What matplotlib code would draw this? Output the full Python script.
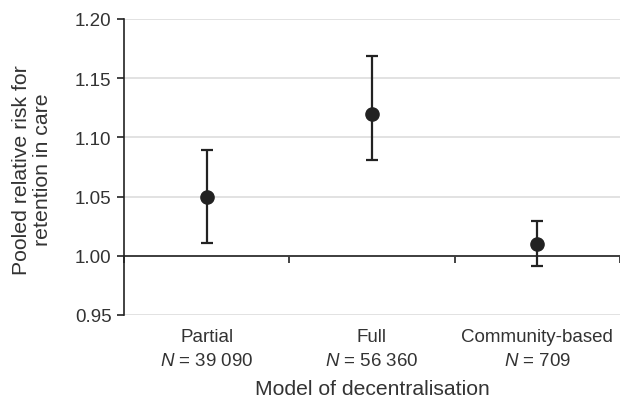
import matplotlib
matplotlib.use('Agg')
import matplotlib.pyplot as plt
import matplotlib.transforms as mtransforms

plt.rcParams['font.family'] = ['Liberation Sans', 'DejaVu Sans']
plt.rcParams['mathtext.fontset'] = 'custom'
plt.rcParams['mathtext.rm'] = 'Liberation Sans'
plt.rcParams['mathtext.it'] = 'Liberation Sans:italic'

# data
models = ['Partial', 'Full', 'Community-based']
sizes = ['39 090', '56 360', '709']
rr = [1.05, 1.12, 1.01]
ci_low = [1.011, 1.081, 0.991]
ci_high = [1.089, 1.169, 1.029]

fig = plt.figure(figsize=(6.2, 4.06), dpi=100)
ax = fig.add_axes([124 / 620, 1 - 316 / 406, 496 / 620, 296 / 406])

x = list(range(len(models)))
err = [[r - lo for r, lo in zip(rr, ci_low)], [hi - r for r, hi in zip(rr, ci_high)]]
ax.errorbar(x, rr, yerr=err, fmt='o', color='#222222', ms=9.5, elinewidth=1.6,
            capsize=4.2, capthick=1.6, zorder=3)

ax.set_xlim(-0.5, 2.5)
ax.set_ylim(0.95, 1.20)
ax.set_yticks([0.95, 1.00, 1.05, 1.10, 1.15, 1.20])
ax.set_yticklabels(['0.95', '1.00', '1.05', '1.10', '1.15', '1.20'])
ax.yaxis.grid(True, color='#dddddd', lw=1.2)
ax.set_axisbelow(True)

for s in ['top', 'right']:
    ax.spines[s].set_visible(False)
ax.spines['bottom'].set_position(('data', 1.0))
ax.spines['bottom'].set_color('#222222')
ax.spines['left'].set_color('#222222')
ax.spines['left'].set_linewidth(1.2)
ax.spines['bottom'].set_linewidth(1.2)

ax.set_xticks([-0.5, 0.5, 1.5, 2.5])
ax.set_xticklabels([])
ax.tick_params(axis='x', direction='out', length=5, width=1.2, color='#222222')
ax.tick_params(axis='y', direction='out', length=5, width=1.2, color='#222222',
               labelsize=13.5, labelcolor='#333333', pad=4)

trans = mtransforms.blended_transform_factory(ax.transData, fig.transFigure)
for i, (m, n) in enumerate(zip(models, sizes)):
    ax.text(i, 1 - 338 / 406, m, transform=trans, ha='center', va='center',
            fontsize=13.5, color='#333333')
    ax.text(i, 1 - 362 / 406, '$N$ = ' + n, transform=trans, ha='center', va='center',
            fontsize=13.5, color='#333333')

fig.text((124 + 620) / 2 / 620, 1 - 390 / 406, 'Model of decentralisation',
         ha='center', va='center', fontsize=15.2, color='#333333')
fig.text(32 / 620, 1 - 170 / 406, 'Pooled relative risk for\nretention in care',
         ha='center', va='center', rotation=90, fontsize=15.3, color='#333333',
         linespacing=1.15)

fig.savefig('out.png', dpi=100)
